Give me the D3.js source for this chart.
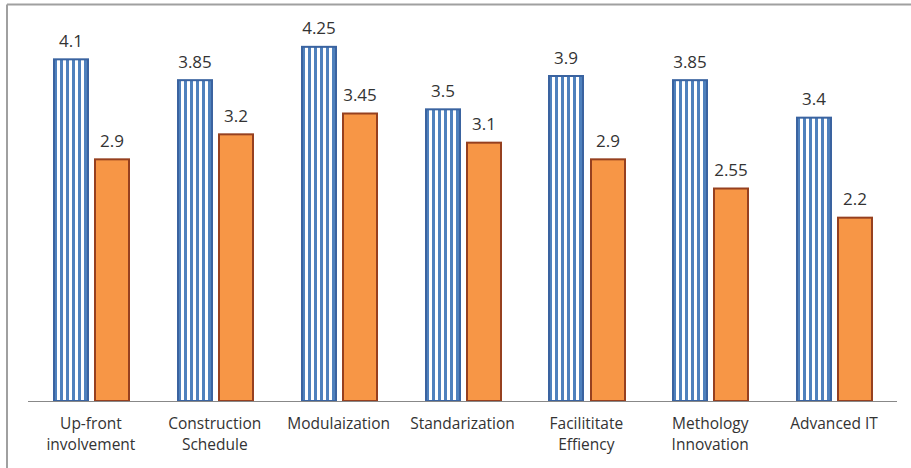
<!DOCTYPE html>
<html>
<head>
<meta charset="utf-8">
<script src="https://cdn.jsdelivr.net/npm/d3@7"></script>
<style>
  html, body { margin: 0; padding: 0; background: #fff; }
  svg { display: block; }
</style>
</head>
<body>
<svg id="chart" width="911" height="468"></svg>
<script>
const categories = [
  ["Up-front", "involvement"],
  ["Construction", "Schedule"],
  ["Modulaization"],
  ["Standarization"],
  ["Facilititate", "Effiency"],
  ["Methology", "Innovation"],
  ["Advanced IT"]
];
const seriesNames = ["Series A", "Series B"];
const seriesA = [4.1, 3.85, 4.25, 3.5, 3.9, 3.85, 3.4];
const seriesB = [2.9, 3.2, 3.45, 3.1, 2.9, 2.55, 2.2];

const W = 911, H = 468;
const svg = d3.select("#chart");
const font = "'Open Sans', sans-serif";

// frame (top and left edges visible)
svg.append("line").attr("x1", 7).attr("x2", W).attr("y1", 4.5).attr("y2", 4.5)
  .attr("stroke", "#a0a0a0").attr("stroke-width", 2);
svg.append("line").attr("x1", 7).attr("x2", 7).attr("y1", 4.5).attr("y2", H)
  .attr("stroke", "#a0a0a0").attr("stroke-width", 2);

const keys = categories.map((c, i) => "c" + i);
const x0 = d3.scaleBand().domain(keys).range([28, 895]).paddingInner(0).paddingOuter(0);
const x1 = d3.scaleBand().domain(seriesNames).range([26, 101]).paddingInner(0.18).paddingOuter(0);
const y = d3.scaleLinear().domain([0, 4.5]).range([401, 26]);

const barX = (k, s) => Math.round(x0(k) + x1(s));
const barW = Math.round(x1.bandwidth());

const defs = svg.append("defs");
const period = 6;
keys.forEach(k => {
  const px = barX(k, seriesNames[0]);
  const pat = defs.append("pattern").attr("id", "stripes-" + k)
    .attr("patternUnits", "userSpaceOnUse")
    .attr("x", px).attr("y", 0)
    .attr("width", period).attr("height", 10);
  pat.append("rect").attr("x", 0).attr("y", 0).attr("width", period).attr("height", 10).attr("fill", "#ffffff");
  pat.append("rect").attr("x", 0).attr("y", 0).attr("width", 3).attr("height", 10).attr("fill", "#4f81bd");
});

const data = keys.map((k, i) => ({ key: k, cat: categories[i], vals: [seriesA[i], seriesB[i]] }));

const groups = svg.selectAll("g.grp").data(data).enter().append("g")
  .attr("class", "grp");

const styles = [
  { fill: k => `url(#stripes-${k})`, stroke: "#3a63a0" },
  { fill: k => "#f79646", stroke: "#96401f" }
];

groups.each(function(d) {
  const g = d3.select(this);
  d.vals.forEach((v, si) => {
    const bx = barX(d.key, seriesNames[si]);
    g.append("rect")
      .attr("x", bx).attr("y", y(v))
      .attr("width", barW).attr("height", y(0) - y(v))
      .attr("fill", styles[si].fill(d.key))
      .attr("stroke", styles[si].stroke)
      .attr("stroke-width", 2);
    g.append("text")
      .attr("x", bx + barW / 2).attr("y", y(v) - 12.5)
      .attr("text-anchor", "middle")
      .attr("font-family", font).attr("font-size", 17)
      .attr("fill", "#333")
      .text(v);
  });
});

// x axis baseline
svg.append("line").attr("x1", 28).attr("x2", 897).attr("y1", 401.5).attr("y2", 401.5)
  .attr("stroke", "#888").attr("stroke-width", 1.2);

// category labels
groups.each(function(d) {
  const g = d3.select(this);
  const t = g.append("text")
    .attr("text-anchor", "middle")
    .attr("font-family", font).attr("font-size", 15.5)
    .attr("fill", "#333");
  d.cat.forEach((line, li) => {
    t.append("tspan").attr("x", x0(d.key) + x0.bandwidth() / 2 + 1).attr("y", 429 + li * 21).text(line);
  });
});
</script>
</body>
</html>
